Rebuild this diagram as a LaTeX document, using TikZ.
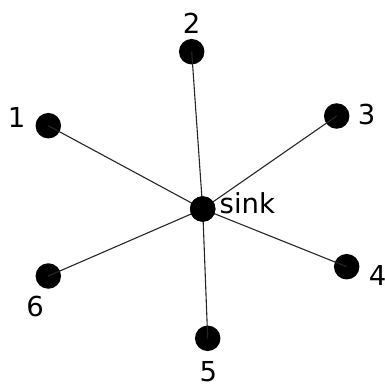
\documentclass[tikz,border=0pt]{standalone}
\usepackage{fontspec}
\setmainfont{DejaVu Sans}
\begin{document}
\begin{tikzpicture}[x=1pt,y=-1pt,
  dot/.style={circle,fill=black,inner sep=0pt,minimum size=25.5pt},
  lbl/.style={inner sep=0pt,font=\fontsize{27.5}{27.5}\selectfont},
  edge/.style={draw=black!85,line width=1.1pt}]
\useasboundingbox (0,0) rectangle (385,385);
\node[dot] (s) at (202.7,209) {};
\node[dot] (n1) at (48.3,125.7) {};
\node[dot] (n2) at (191.7,51.7) {};
\node[dot] (n3) at (336.7,116) {};
\node[dot] (n4) at (346.7,266.7) {};
\node[dot] (n5) at (207.7,338.3) {};
\node[dot] (n6) at (48.3,276) {};
\foreach \n in {n1,n2,n3,n4,n5,n6} \draw[edge] (s.center) -- (\n.center);
\node[dot] at (s) {};
\node[lbl,anchor=base west] (ls) at (219.5,213) {sink};
\node[lbl] (l1) at (16.7,117) {1};
\node[lbl] (l2) at (191.7,23.3) {2};
\node[lbl] (l3) at (366.7,114.3) {3};
\node[lbl] (l4) at (377.7,275) {4};
\node[lbl] (l5) at (208.3,371.7) {5};
\node[lbl] (l6) at (35,306.7) {6};
\end{tikzpicture}
\end{document}
